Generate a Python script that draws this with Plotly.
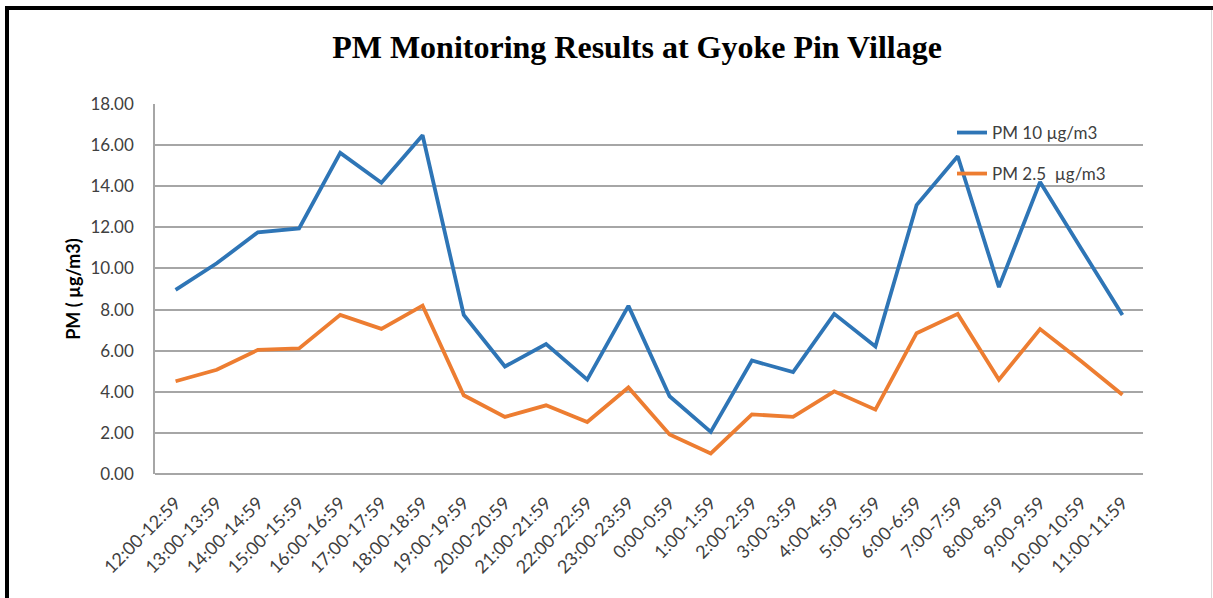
import plotly.graph_objects as go

categories = ["12:00-12:59", "13:00-13:59", "14:00-14:59", "15:00-15:59", "16:00-16:59",
              "17:00-17:59", "18:00-18:59", "19:00-19:59", "20:00-20:59", "21:00-21:59",
              "22:00-22:59", "23:00-23:59", "0:00-0:59", "1:00-1:59", "2:00-2:59",
              "3:00-3:59", "4:00-4:59", "5:00-5:59", "6:00-6:59", "7:00-7:59",
              "8:00-8:59", "9:00-9:59", "10:00-10:59", "11:00-11:59"]

pm10 = [8.96, 10.25, 11.76, 11.95, 15.62, 14.17, 16.48, 7.74, 5.23, 6.32,
        4.59, 8.18, 3.78, 2.05, 5.52, 4.96, 7.79, 6.20, 13.08, 15.46,
        9.09, 14.21, 10.96, 7.74]

pm25 = [4.51, 5.07, 6.04, 6.11, 7.74, 7.06, 8.19, 3.83, 2.78, 3.34,
        2.53, 4.21, 1.92, 1.00, 2.90, 2.78, 4.02, 3.13, 6.85, 7.79,
        4.59, 7.05, 5.48, 3.86]

y_ticks = [0, 2, 4, 6, 8, 10, 12, 14, 16, 18]

W, H = 1213, 598
L, R, T, B = 155, 70, 104, 124
PW, PH = W - L - R, H - T - B

def px_x(px):
    return (px - L) / PW

def px_y(py):
    return (H - B - py) / PH

BLUE = "#2E75B6"
ORANGE = "#ED7D31"
TXT = "#404040"
GRID = "#A6A6A6"
FONT = "Lato, 'Open Sans', sans-serif"

fig = go.Figure()
fig.add_trace(go.Scatter(x=categories, y=pm10, mode="lines", name="PM 10 µg/m3",
                         line=dict(color=BLUE, width=3.8), legend="legend"))
fig.add_trace(go.Scatter(x=categories, y=pm25, mode="lines", name="PM 2.5\u00a0 µg/m3",
                         line=dict(color=ORANGE, width=3.8), legend="legend2"))

shapes = [
    dict(type="rect", xref="paper", yref="paper", x0=px_x(5), x1=px_x(1213),
         y0=px_y(10), y1=px_y(6), fillcolor="black", line=dict(width=0), layer="above"),
    dict(type="rect", xref="paper", yref="paper", x0=px_x(5), x1=px_x(9),
         y0=px_y(598), y1=px_y(6), fillcolor="black", line=dict(width=0), layer="above"),
    dict(type="line", xref="paper", yref="paper", x0=px_x(1211.5), x1=px_x(1211.5),
         y0=px_y(598), y1=px_y(10), line=dict(color="#D9D9D9", width=1)),
]

fig.update_layout(
    width=W, height=H,
    margin=dict(l=L, r=R, t=T, b=B, autoexpand=False),
    paper_bgcolor="white", plot_bgcolor="white",
    font=dict(family=FONT, color=TXT, size=17),
    title=dict(text="<b>PM Monitoring Results at Gyoke Pin Village</b>",
               font=dict(family="'Liberation Serif', 'Times New Roman', serif", size=32, color="black"),
               x=637 / W, xanchor="center", xref="container",
               y=1 - 47 / H, yanchor="middle", yref="container"),
    xaxis=dict(type="category", range=[-0.5, len(categories) - 0.5], showgrid=False,
               showline=False, ticks="", tickangle=-45, tickfont=dict(size=18, color=TXT),
               ticklabelstandoff=14),
    yaxis=dict(range=[0, 18], tickvals=y_ticks, tickformat=".2f", showgrid=True,
               gridcolor=GRID, gridwidth=1.5, zeroline=True, zerolinecolor=GRID,
               zerolinewidth=1.5, showline=True, linecolor=GRID, linewidth=1.5,
               ticks="", tickfont=dict(size=17, color=TXT), ticklabelstandoff=16,
               title=dict(text="<b>PM ( µg/m3)</b>", font=dict(size=18, color="black"),
                          standoff=5)),
    legend=dict(x=px_x(952), y=px_y(133), xanchor="left", yanchor="middle",
                bgcolor="rgba(0,0,0,0)", font=dict(size=17, color=TXT)),
    legend2=dict(x=px_x(952), y=px_y(174), xanchor="left", yanchor="middle",
                 bgcolor="rgba(0,0,0,0)", font=dict(size=17, color=TXT)),
    shapes=shapes,
    showlegend=True,
)

fig.write_html("out.html", config={"displayModeBar": False},
               post_script="document.body.style.margin='0';")
